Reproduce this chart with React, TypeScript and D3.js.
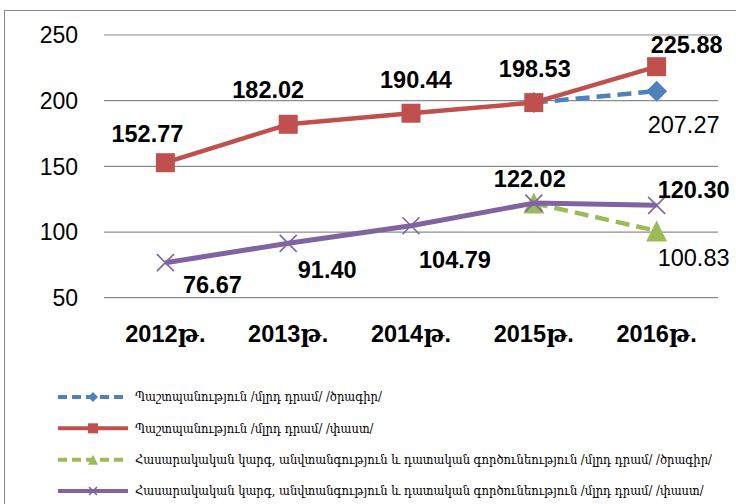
import React from "react";
import * as d3 from "d3";

const categories = ["2012թ.", "2013թ.", "2014թ.", "2015թ.", "2016թ."];
const yTicks = [50, 100, 150, 200, 250];

const defencePlan: (number | null)[] = [null, null, null, 198.53, 207.27];
const defenceFact: (number | null)[] = [152.77, 182.02, 190.44, 198.53, 225.88];
const orderPlan: (number | null)[] = [null, null, null, 122.02, 100.83];
const orderFact: (number | null)[] = [76.67, 91.4, 104.79, 122.02, 120.3];

const legendNames = [
  "Պաշտպանություն /մլրդ դրամ/ /ծրագիր/",
  "Պաշտպանություն /մլրդ դրամ/ /փաստ/",
  "Հասարակական կարգ, անվտանգություն և դատական գործունեություն /մլրդ դրամ/ /ծրագիր/",
  "Հասարակական կարգ, անվտանգություն և դատական գործունեություն /մլրդ դրամ/ /փաստ/",
];

// which points carry a label, and label offsets (dx, dy) from the point
const defencePlanLabels = [null, null, null, null, [27, 42]];
const defenceFactLabels = [[-18, -21], [-20, -26], [5, -25], [1, -26], [30, -14]];
const orderPlanLabels = [null, null, null, null, [37, 35]];
const orderFactLabels = [[47, 30], [39, 35], [44, 42], [-4, -16], [37, -7]];

const W = 736;
const H = 504;

type Marker = "diamond" | "square" | "triangle" | "x";

interface Series {
  name: string;
  values: (number | null)[];
  color: string;
  dash: string | null;
  width: number;
  marker: Marker;
  labels: (number[] | null)[];
  bold: boolean;
}

const series: Series[] = [
  { name: legendNames[0], values: defencePlan, color: "#4F81BD", dash: "14 7", width: 4.5, marker: "diamond", labels: defencePlanLabels, bold: false },
  { name: legendNames[1], values: defenceFact, color: "#C0504D", dash: null, width: 4.5, marker: "square", labels: defenceFactLabels, bold: true },
  { name: legendNames[2], values: orderPlan, color: "#9BBB59", dash: "14 7", width: 4.5, marker: "triangle", labels: orderPlanLabels, bold: false },
  { name: legendNames[3], values: orderFact, color: "#8064A2", dash: null, width: 5, marker: "x", labels: orderFactLabels, bold: true },
];

function MarkerShape({ type, x, y, color, s }: { type: Marker; x: number; y: number; color: string; s: number }) {
  if (type === "square") {
    return <rect x={x - s / 2} y={y - s / 2} width={s} height={s} fill={color} />;
  }
  if (type === "diamond") {
    const r = s / 2;
    return <path d={`M${x},${y - r}L${x + r},${y}L${x},${y + r}L${x - r},${y}Z`} fill={color} />;
  }
  if (type === "triangle") {
    const r = s / 2;
    return <path d={`M${x},${y - r}L${x + r},${y + r}L${x - r},${y + r}Z`} fill={color} />;
  }
  const r = s / 2;
  return (
    <path
      d={`M${x - r},${y - r}L${x + r},${y + r}M${x - r},${y + r}L${x + r},${y - r}`}
      stroke={color}
      strokeWidth={1.6}
      fill="none"
    />
  );
}

const markerSize: Record<Marker, number> = { square: 19, diamond: 21, triangle: 21, x: 17 };

export default function App() {
  const x = d3.scalePoint<string>().domain(categories).range([104, 718]).padding(0.5);
  const y = d3.scaleLinear().domain([50, 250]).range([297.7, 35]);

  const line = d3
    .line<number | null>()
    .defined((d) => d !== null)
    .x((_, i) => x(categories[i]) as number)
    .y((d) => y(d as number));

  const numFont = "'Liberation Sans', Arial, sans-serif";
  const catFont = "'Liberation Sans', 'DejaVu Serif', sans-serif";
  const legFont = "'DejaVu Serif Condensed', 'DejaVu Serif', serif";

  const legendY = d3.scalePoint<string>().domain(legendNames).range([397, 491]);

  return (
    <svg width={W} height={H} style={{ position: "absolute", left: 0, top: 0, background: "#fff" }}>
      <rect x={4.5} y={10.5} width={740} height={520} fill="#fff" stroke="#8a8a8a" strokeWidth={1} />
      {yTicks.map((t) => (
        <g key={t}>
          <line x1={104} x2={718} y1={y(t)} y2={y(t)} stroke="#8c8c8c" strokeWidth={1.2} />
          <text x={78} y={y(t)} dy="0.36em" textAnchor="end" fontFamily={numFont} fontSize={23} fill="#000">
            {t}
          </text>
        </g>
      ))}
      {categories.map((c) => (
        <text key={c} x={x(c)} y={342} textAnchor="middle" fontFamily={catFont} fontSize={23.5} fontWeight="bold" fill="#000">
          {c}
        </text>
      ))}
      {series.map((s) => (
        <g key={s.name}>
          <path
            d={line(s.values) || ""}
            fill="none"
            stroke={s.color}
            strokeWidth={s.width}
            strokeDasharray={s.dash || undefined}
            strokeLinejoin="round"
          />
          {s.values.map((v, i) =>
            v === null ? null : (
              <MarkerShape key={i} type={s.marker} x={x(categories[i]) as number} y={y(v)} color={s.color} s={markerSize[s.marker]} />
            )
          )}
        </g>
      ))}
      {series.map((s) =>
        s.values.map((v, i) => {
          const off = s.labels[i];
          if (v === null || !off) return null;
          return (
            <text
              key={s.name + i}
              x={(x(categories[i]) as number) + off[0]}
              y={y(v) + off[1]}
              textAnchor="middle"
              fontFamily={numFont}
              fontSize={23.5}
              fontWeight={s.bold ? "bold" : "normal"}
              fill="#000"
            >
              {v.toFixed(2)}
            </text>
          );
        })
      )}
      {series.map((s) => {
        const ly = legendY(s.name) as number;
        return (
          <g key={"leg" + s.name}>
            <line x1={58} x2={128} y1={ly} y2={ly} stroke={s.color} strokeWidth={4} strokeDasharray={s.dash ? "9 5" : undefined} />
            <MarkerShape type={s.marker} x={93} y={ly} color={s.color} s={s.marker === "x" ? 8 : 10} />
            <text x={135} y={ly} dy="0.35em" fontFamily={legFont} fontSize={12.8} fill="#000">
              {s.name}
            </text>
          </g>
        );
      })}
    </svg>
  );
}
